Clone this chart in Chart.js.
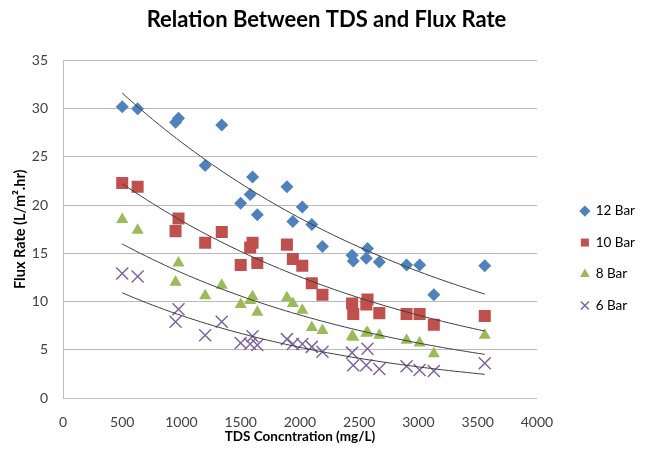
<!DOCTYPE html>
<html>
<head>
<meta charset="utf-8">
<script src="https://cdn.jsdelivr.net/npm/chart.js@4.4.1/dist/chart.umd.min.js"></script>
<style>
    html, body { margin: 0; padding: 0; background: #fff; }
    #wrap { width: 651px; height: 459px; }
</style>
</head>
<body>
<div id="wrap"><canvas id="fluxChart" width="651" height="459"></canvas></div>
<script>
// TDS concentration (mg/L) of each sample, shared by all pressures
const tdsValues = [500, 630, 950, 975, 1200, 1340, 1500, 1580, 1600, 1640, 1890, 1940,
                   2020, 2100, 2190, 2440, 2450, 2560, 2570, 2670, 2900, 3010, 3130, 3560];

// Flux rate (L/m².hr)
const flux12 = [30.2, 30.0, 28.6, 29.0, 24.1, 28.3, 20.2, 21.1, 22.9, 19.0, 21.9, 18.3,
                19.8, 18.0, 15.7, 14.8, 14.2, 14.5, 15.5, 14.1, 13.8, 13.8, 10.7, 13.7];
const flux10 = [22.3, 21.9, 17.3, 18.6, 16.1, 17.2, 13.8, 15.6, 16.1, 14.0, 15.9, 14.4,
                13.7, 11.9, 10.7, 9.8, 8.7, 9.7, 10.2, 8.8, 8.7, 8.7, 7.6, 8.5];
const flux8  = [18.5, 17.4, 12.0, 14.0, 10.6, 11.7, 9.7, 10.1, 10.5, 8.9, 10.4, 9.8,
                9.1, 7.3, 7.0, 6.4, 6.3, 6.7, 6.8, 6.5, 6.0, 5.7, 4.6, 6.5];
const flux6  = [12.9, 12.6, 7.9, 9.2, 6.5, 7.9, 5.7, 5.6, 6.4, 5.5, 6.1, 5.6,
                5.6, 5.3, 4.8, 4.7, 3.4, 3.4, 5.1, 3.0, 3.3, 2.9, 2.8, 3.6];

const seriesNames = ['12 Bar', '10 Bar', '8 Bar', '6 Bar'];
const xTicks = [0, 500, 1000, 1500, 2000, 2500, 3000, 3500, 4000];
const yTicks = [0, 5, 10, 15, 20, 25, 30, 35];

Chart.defaults.font.family = 'Lato, "Open Sans", sans-serif';

function toPoints(ys) {
    return tdsValues.map((x, i) => ({ x: x, y: ys[i] }));
}

// exponential trendline (least squares on ln y), like the spreadsheet one
function expTrend(ys) {
    const n = tdsValues.length;
    let sx = 0, sy = 0, sxx = 0, sxy = 0;
    tdsValues.forEach((x, i) => {
        const ly = Math.log(ys[i]);
        sx += x; sy += ly; sxx += x * x; sxy += x * ly;
    });
    const b = (n * sxy - sx * sy) / (n * sxx - sx * sx);
    const a = (sy - b * sx) / n;
    const xMin = Math.min(...tdsValues);
    const xMax = Math.max(...tdsValues);
    const pts = [];
    for (let k = 0; k <= 60; k++) {
        const x = xMin + (xMax - xMin) * k / 60;
        pts.push({ x: x, y: Math.exp(a + b * x) });
    }
    return pts;
}

function trendSet(ys) {
    return {
        label: '',
        data: expTrend(ys),
        showLine: true,
        pointRadius: 0,
        borderColor: '#3f3f3f',
        borderWidth: 1,
        order: -1
    };
}

const markerSets = [
    { label: seriesNames[0], data: toPoints(flux12), pointStyle: 'rectRot', pointRadius: 6.5,
      backgroundColor: '#4f81bd', borderWidth: 0 },
    { label: seriesNames[1], data: toPoints(flux10), pointStyle: 'rect', pointRadius: 8.5,
      backgroundColor: '#c0504d', borderWidth: 0 },
    { label: seriesNames[2], data: toPoints(flux8), pointStyle: 'triangle', pointRadius: 7,
      backgroundColor: '#9bbb59', borderWidth: 0 },
    { label: seriesNames[3], data: toPoints(flux6), pointStyle: 'crossRot', pointRadius: 8.5,
      backgroundColor: '#8064a2', borderColor: '#8064a2', borderWidth: 1.5 }
];

new Chart(document.getElementById('fluxChart'), {
    type: 'scatter',
    data: {
        datasets: [
            ...markerSets,
            trendSet(flux12),
            trendSet(flux10),
            trendSet(flux8),
            trendSet(flux6)
        ]
    },
    options: {
        responsive: false,
        animation: false,
        events: [],
        layout: { padding: { left: 8, right: 6, top: 0, bottom: 6 } },
        plugins: {
            title: {
                display: true,
                text: 'Relation Between TDS and Flux Rate',
                color: '#000',
                font: { size: 22, weight: 'bold' },
                padding: { top: 7, bottom: 27 }
            },
            legend: {
                position: 'right',
                // empty legend title just pushes the items down a bit
                title: { display: true, text: '', font: { size: 13 }, padding: { top: 48, bottom: 0 } },
                labels: {
                    usePointStyle: true,
                    boxWidth: 8,
                    boxHeight: 8,
                    padding: 18,
                    color: '#000',
                    font: { size: 13.5 },
                    filter: item => item.text !== ''
                }
            },
            tooltip: { enabled: false }
        },
        scales: {
            x: {
                type: 'linear',
                min: xTicks[0],
                max: xTicks[xTicks.length - 1],
                afterBuildTicks: s => { s.ticks = xTicks.map(v => ({ value: v })); },
                grid: { display: false, drawTicks: false },
                border: { color: '#bdbdbd' },
                ticks: { color: '#404040', font: { size: 14 }, padding: 16,
                         callback: v => String(v) },
                title: {
                    display: true,
                    text: 'TDS Concntration (mg/L)',
                    color: '#000',
                    font: { size: 13.5, weight: 'bold' },
                    padding: { top: 2, bottom: 8 }
                },
                afterFit: s => { s.height = 55; }
            },
            y: {
                min: yTicks[0],
                max: yTicks[yTicks.length - 1],
                afterBuildTicks: s => { s.ticks = yTicks.map(v => ({ value: v })); },
                grid: { color: '#bababa', drawTicks: false },
                border: { color: '#bdbdbd' },
                ticks: { color: '#404040', font: { size: 14 }, padding: 15,
                         callback: v => String(v) },
                title: {
                    display: true,
                    text: 'Flux Rate (L/m².hr)',
                    color: '#000',
                    font: { size: 14.5, weight: 'bold' }
                },
                afterFit: s => { s.width = 55; }
            },
            // empty right axis: only keeps the gap between plot and legend
            gap: {
                position: 'right',
                grid: { display: false },
                border: { display: false },
                ticks: { display: false },
                afterFit: s => { s.width = 26; }
            }
        }
    }
});
</script>
</body>
</html>
